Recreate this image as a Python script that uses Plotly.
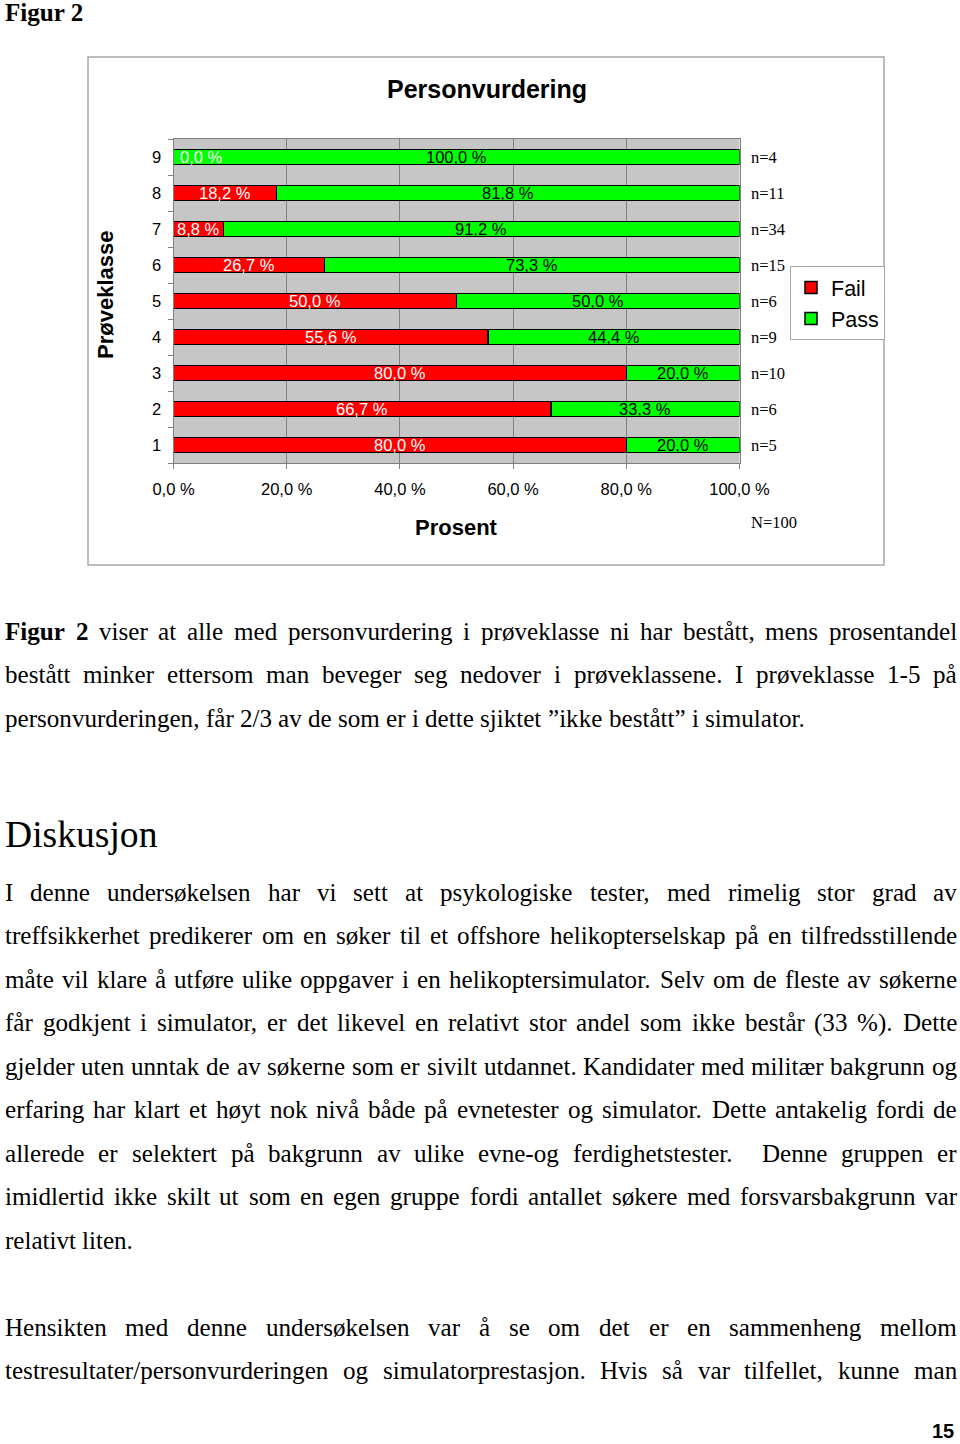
import plotly.graph_objects as go

# ---------------- chart data ----------------
classes = [1, 2, 3, 4, 5, 6, 7, 8, 9]
fail_pct = [80.0, 66.7, 80.0, 55.6, 50.0, 26.7, 8.8, 18.2, 0.0]
pass_pct = [20.0, 33.3, 20.0, 44.4, 50.0, 73.3, 91.2, 81.8, 100.0]
n_counts = [5, 6, 10, 9, 6, 15, 34, 11, 4]
x_tick_vals = [0, 20, 40, 60, 80, 100]
x_tick_labels = ["0,0 %", "20,0 %", "40,0 %", "60,0 %", "80,0 %", "100,0 %"]
series_names = ["Fail", "Pass"]
chart_title = "Personvurdering"
x_title = "Prosent"
y_title = "Prøveklasse"

# ---------------- page text ----------------
page_heading = "Figur 2"
para1 = [
    "Figur 2 viser at alle med personvurdering i prøveklasse ni har bestått, mens prosentandel",
    "bestått minker ettersom man beveger seg nedover i prøveklassene. I prøveklasse 1-5 på",
    "personvurderingen, får 2/3 av de som er i dette sjiktet ”ikke bestått” i simulator.",
]
section_heading = "Diskusjon"
para2 = [
    "I denne undersøkelsen har vi sett at psykologiske tester, med rimelig stor grad av",
    "treffsikkerhet predikerer om en søker til et offshore helikopterselskap på en tilfredsstillende",
    "måte vil klare å utføre ulike oppgaver i en helikoptersimulator. Selv om de fleste av søkerne",
    "får godkjent i simulator, er det likevel en relativt stor andel som ikke består (33 %). Dette",
    "gjelder uten unntak de av søkerne som er sivilt utdannet. Kandidater med militær bakgrunn og",
    "erfaring har klart et høyt nok nivå både på evnetester og simulator. Dette antakelig fordi de",
    "allerede er selektert på bakgrunn av ulike evne-og ferdighetstester.  Denne gruppen er",
    "imidlertid ikke skilt ut som en egen gruppe fordi antallet søkere med forsvarsbakgrunn var",
    "relativt liten.",
]
para3 = [
    "Hensikten med denne undersøkelsen var å se om det er en sammenheng mellom",
    "testresultater/personvurderingen og simulatorprestasjon. Hvis så var tilfellet, kunne man",
]
page_number = "15"

# ---------------- layout helpers ----------------
W, H = 960, 1444


def px(x):
    return x / W


def py(y):
    return 1 - y / H


# Times / Liberation Serif advance widths (per 1000 em)
_T = {}
for chars, w in [
    ("acez", 444), ("bdghknopquvxy0123456789", 500), ("f", 333), ("ijlt", 278),
    ("m", 778), ("r", 333), ("s", 389), ("w", 722), ("å", 444), ("ø", 500), ("æ", 667),
    ("ADGHKNOQUVXY", 722), ("BCR", 667), ("ELTZ", 611), ("FPS", 556), ("I", 333),
    ("J", 389), ("M", 889), ("W", 944), (" ,.", 250), ("/", 278), ("-()", 333),
    ("%", 833), ("”“", 444),
]:
    for c in chars:
        _T[c] = w
_TB = dict(_T)
_TB.update({"F": 611, "u": 556, "r": 444, "g": 500, "i": 278, "2": 500})


def text_width(s, size, bold=False):
    tab = _TB if bold else _T
    return sum(tab.get(c, 500) for c in s) * size / 1000.0


SERIF = "Liberation Serif, Times New Roman, serif"
SANS = "Liberation Sans, Arial, sans-serif"
BODY = 25.1
LEFT, RIGHT = 4, 956

annotations = []


def add_line(line, y, justify, bold_words=0):
    words = line.split(" ")
    widths = [text_width(w, BODY, i < bold_words) for i, w in enumerate(words)]
    if justify and len(words) > 1:
        gap = (RIGHT - LEFT - sum(widths)) / (len(words) - 1)
    else:
        gap = text_width(" ", BODY)
    x = LEFT
    for i, (w, ww) in enumerate(zip(words, widths)):
        if w:
            txt = f"<b>{w}</b>" if i < bold_words else w
            annotations.append(dict(
                text=txt, x=px(x), y=py(y), xref="paper", yref="paper",
                xanchor="left", yanchor="middle", showarrow=False,
                font=dict(family=SERIF, size=BODY, color="black"), borderpad=0,
            ))
        x += ww + gap


def add_para(lines, y0, step, bold_first=0, last_justified=False):
    for i, ln in enumerate(lines):
        justify = (i < len(lines) - 1) or last_justified
        add_line(ln, y0 + i * step, justify=justify,
                 bold_words=bold_first if i == 0 else 0)


LINE = 43.55
add_para(para1, 631, LINE, bold_first=2)
add_para(para2, 892, LINE)
add_para(para3, 1327, LINE, last_justified=True)  # paragraph continues on next page

annotations.append(dict(text=f"<b>{page_heading}</b>", x=px(LEFT), y=py(12), xref="paper",
                        yref="paper", xanchor="left", yanchor="middle", showarrow=False,
                        borderpad=0, font=dict(family=SERIF, size=BODY, color="black")))
annotations.append(dict(text=section_heading, x=px(LEFT), y=py(834), xref="paper",
                        yref="paper", xanchor="left", yanchor="middle", showarrow=False,
                        borderpad=0, font=dict(family=SERIF, size=37.6, color="black")))
annotations.append(dict(text=f"<b>{page_number}</b>", x=px(955), y=py(1431), xref="paper",
                        yref="paper", xanchor="right", yanchor="middle", showarrow=False,
                        borderpad=0, font=dict(family=SANS, size=20, color="black")))

# ---------------- chart ----------------
fig = go.Figure()
fig.add_trace(go.Bar(y=classes, x=fail_pct, orientation="h", name=series_names[0],
                     width=0.43, marker=dict(color="#ff0000", line=dict(color="black", width=1.5))))
fig.add_trace(go.Bar(y=classes, x=pass_pct, orientation="h", name=series_names[1],
                     width=0.43, marker=dict(color="#00ff00", line=dict(color="black", width=1.5))))


def fmt(v):
    return f"{v:.1f} %".replace(".", ",")


for c, f, p, n in zip(classes, fail_pct, pass_pct, n_counts):
    annotations.append(dict(text=fmt(f), x=f / 2 if f > 0 else 0, y=c, xref="x", yref="y",
                            xanchor="center" if f > 0 else "left", xshift=0 if f > 0 else 4,
                            showarrow=False, font=dict(family=SANS, size=16.5, color="white")))
    annotations.append(dict(text=fmt(p), x=f + p / 2, y=c, xref="x", yref="y",
                            xanchor="center",
                            showarrow=False, font=dict(family=SANS, size=16.5, color="black")))
    annotations.append(dict(text=f"n={n}", x=100, y=c, xref="x", yref="y", xanchor="left",
                            xshift=9, showarrow=False,
                            font=dict(family=SERIF, size=16.5, color="black")))

annotations.append(dict(text=f"N={sum(n_counts)}", x=100, y=py(522), xref="x", yref="paper",
                        xanchor="left", xshift=9, yanchor="middle", showarrow=False,
                        font=dict(family=SERIF, size=16.5, color="black")))
annotations.append(dict(text=f"<b>{chart_title}</b>", x=px(487), y=py(89), xref="paper",
                        yref="paper", showarrow=False, xanchor="center", yanchor="middle",
                        font=dict(family=SANS, size=25, color="black")))
annotations.append(dict(text=f"<b>{x_title}</b>", x=px(456), y=py(527), xref="paper",
                        yref="paper", showarrow=False, xanchor="center", yanchor="middle",
                        font=dict(family=SANS, size=22, color="black")))
annotations.append(dict(text=f"<b>{y_title}</b>", x=px(105), y=py(295), xref="paper",
                        yref="paper", showarrow=False, textangle=-90,
                        xanchor="center", yanchor="middle",
                        font=dict(family=SANS, size=22, color="black")))

boundaries = [c - 0.5 for c in classes] + [classes[-1] + 0.5]

fig.update_layout(
    template="none",
    width=W, height=H, autosize=False,
    margin=dict(l=0, r=0, t=0, b=0, pad=0, autoexpand=False),
    paper_bgcolor="white", plot_bgcolor="#c6c6c6",
    barmode="stack", showlegend=True,
    legend=dict(x=px(790), y=py(266), xanchor="left", yanchor="top", traceorder="normal",
                bgcolor="white", bordercolor="#a8a8a8", borderwidth=1, itemwidth=30,
                font=dict(family=SANS, size=21.5, color="black")),
    xaxis=dict(domain=[px(173.5), px(739.5)], range=[0, 100], tickvals=x_tick_vals,
               ticktext=x_tick_labels, showgrid=True, gridcolor="#808080", gridwidth=1,
               showline=True, linecolor="#808080", linewidth=1, mirror=True,
               ticks="outside", ticklen=5, tickcolor="#808080", ticklabelstandoff=6,
               tickfont=dict(family=SANS, size=16.5, color="black"), zeroline=False,
               automargin=False, fixedrange=True),
    yaxis=dict(domain=[py(463), py(139)], range=[classes[0] - 0.5, classes[-1] + 0.5],
               tickvals=classes, ticktext=[str(c) for c in classes], ticks="",
               showgrid=False, showline=True, linecolor="#808080", linewidth=1, mirror=True,
               ticklabelstandoff=8, tickfont=dict(family=SANS, size=16.5, color="black"),
               minor=dict(tickvals=boundaries, ticks="outside", ticklen=5,
                          tickcolor="#808080", showgrid=False),
               zeroline=False, automargin=False, fixedrange=True),
    annotations=annotations,
    shapes=[dict(type="rect", xref="paper", yref="paper", x0=px(88), x1=px(884),
                 y0=py(565), y1=py(57), line=dict(color="#a8a8a8", width=1.5),
                 fillcolor="rgba(0,0,0,0)", layer="below")],
)

fig.write_html("out.html", config={"displayModeBar": False},
               post_script="document.body.style.margin='0px';")
